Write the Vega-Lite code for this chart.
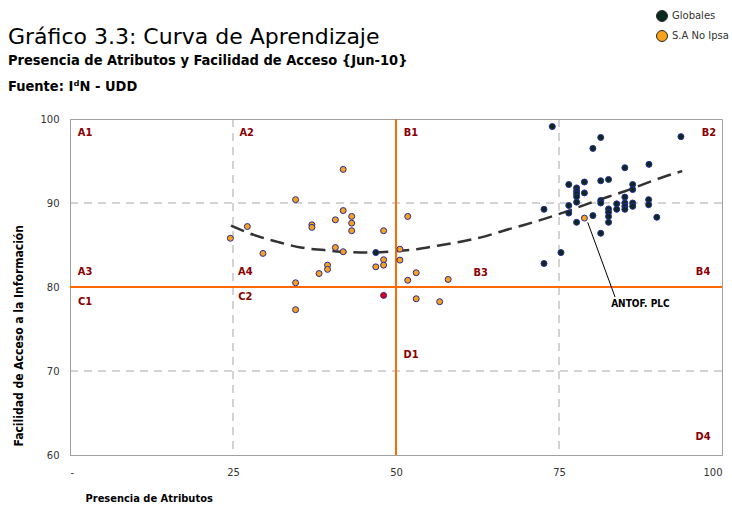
{
  "$schema": "https://vega.github.io/schema/vega-lite/v6.json",
  "width": 652,
  "height": 336,
  "autosize": {"type": "none"},
  "padding": {"left": 70, "top": 119, "right": 10, "bottom": 53},
  "background": "white",
  "title": {
    "text": "Gráfico 3.3: Curva de Aprendizaje",
    "subtitle": ["Presencia de Atributos y Facilidad de Acceso {Jun-10}", "Fuente: IᵈN - UDD"],
    "anchor": "start",
    "frame": "group",
    "dx": -62,
    "dy": 106,
    "offset": 22,
    "font": "DejaVu Sans",
    "fontSize": 22,
    "fontWeight": "normal",
    "color": "#000000",
    "subtitleFont": "DejaVu Sans Condensed",
    "subtitleFontSize": 14.5,
    "subtitleFontWeight": "bold",
    "subtitleColor": "#000000",
    "subtitleLineHeight": 26,
    "subtitlePadding": 5
  },
  "config": {
    "view": {"stroke": "#a0a0a0", "strokeWidth": 1},
    "axis": {
      "labelFont": "DejaVu Sans",
      "labelFontSize": 10,
      "labelColor": "#333333",
      "titleFont": "DejaVu Sans Condensed",
      "titleFontSize": 11,
      "titleFontWeight": "bold",
      "titleColor": "#000000",
      "domainColor": "#a0a0a0",
      "ticks": false,
      "grid": false
    }
  },
  "datasets": {
    "puntos": [
      {"serie": "S.A No Ipsa", "x": 41.9, "y": 94.0},
      {"serie": "S.A No Ipsa", "x": 34.6, "y": 90.4},
      {"serie": "S.A No Ipsa", "x": 41.9, "y": 89.1},
      {"serie": "S.A No Ipsa", "x": 40.7, "y": 88.0},
      {"serie": "S.A No Ipsa", "x": 43.2, "y": 88.4},
      {"serie": "S.A No Ipsa", "x": 43.2, "y": 87.6},
      {"serie": "S.A No Ipsa", "x": 43.2, "y": 86.7},
      {"serie": "S.A No Ipsa", "x": 37.1, "y": 87.4},
      {"serie": "S.A No Ipsa", "x": 37.1, "y": 87.1},
      {"serie": "S.A No Ipsa", "x": 27.2, "y": 87.2},
      {"serie": "S.A No Ipsa", "x": 24.6, "y": 85.8},
      {"serie": "S.A No Ipsa", "x": 29.6, "y": 84.0},
      {"serie": "S.A No Ipsa", "x": 48.1, "y": 86.7},
      {"serie": "S.A No Ipsa", "x": 40.7, "y": 84.7},
      {"serie": "S.A No Ipsa", "x": 41.9, "y": 84.2},
      {"serie": "S.A No Ipsa", "x": 50.6, "y": 84.5},
      {"serie": "S.A No Ipsa", "x": 48.1, "y": 83.25},
      {"serie": "S.A No Ipsa", "x": 48.1, "y": 82.6},
      {"serie": "S.A No Ipsa", "x": 46.9, "y": 82.4},
      {"serie": "S.A No Ipsa", "x": 50.6, "y": 83.2},
      {"serie": "S.A No Ipsa", "x": 51.8, "y": 88.4},
      {"serie": "S.A No Ipsa", "x": 51.8, "y": 80.8},
      {"serie": "S.A No Ipsa", "x": 53.1, "y": 81.7},
      {"serie": "S.A No Ipsa", "x": 53.1, "y": 78.6},
      {"serie": "S.A No Ipsa", "x": 39.5, "y": 82.6},
      {"serie": "S.A No Ipsa", "x": 39.5, "y": 82.1},
      {"serie": "S.A No Ipsa", "x": 38.2, "y": 81.6},
      {"serie": "S.A No Ipsa", "x": 34.6, "y": 80.5},
      {"serie": "S.A No Ipsa", "x": 34.6, "y": 77.3},
      {"serie": "S.A No Ipsa", "x": 58.0, "y": 80.9},
      {"serie": "S.A No Ipsa", "x": 56.7, "y": 78.25},
      {"serie": "S.A No Ipsa", "x": 78.9, "y": 88.2},
      {"serie": "Globales", "x": 73.97, "y": 99.1},
      {"serie": "Globales", "x": 81.4, "y": 97.8},
      {"serie": "Globales", "x": 93.7, "y": 97.9},
      {"serie": "Globales", "x": 80.2, "y": 96.5},
      {"serie": "Globales", "x": 88.8, "y": 94.6},
      {"serie": "Globales", "x": 85.1, "y": 94.2},
      {"serie": "Globales", "x": 76.5, "y": 92.2},
      {"serie": "Globales", "x": 77.7, "y": 91.8},
      {"serie": "Globales", "x": 77.7, "y": 91.4},
      {"serie": "Globales", "x": 77.7, "y": 91.1},
      {"serie": "Globales", "x": 77.7, "y": 90.75},
      {"serie": "Globales", "x": 77.7, "y": 90.1},
      {"serie": "Globales", "x": 78.9, "y": 92.5},
      {"serie": "Globales", "x": 78.9, "y": 91.2},
      {"serie": "Globales", "x": 81.4, "y": 92.65},
      {"serie": "Globales", "x": 82.6, "y": 92.8},
      {"serie": "Globales", "x": 81.4, "y": 90.3},
      {"serie": "Globales", "x": 81.4, "y": 90.0},
      {"serie": "Globales", "x": 86.3, "y": 92.2},
      {"serie": "Globales", "x": 86.3, "y": 91.6},
      {"serie": "Globales", "x": 85.1, "y": 90.7},
      {"serie": "Globales", "x": 85.1, "y": 90.0},
      {"serie": "Globales", "x": 85.1, "y": 89.6},
      {"serie": "Globales", "x": 85.1, "y": 89.25},
      {"serie": "Globales", "x": 83.85, "y": 89.9},
      {"serie": "Globales", "x": 83.85, "y": 89.25},
      {"serie": "Globales", "x": 86.3, "y": 90.0},
      {"serie": "Globales", "x": 86.3, "y": 89.6},
      {"serie": "Globales", "x": 88.75, "y": 90.4},
      {"serie": "Globales", "x": 88.75, "y": 89.8},
      {"serie": "Globales", "x": 82.6, "y": 89.3},
      {"serie": "Globales", "x": 82.6, "y": 88.9},
      {"serie": "Globales", "x": 82.6, "y": 88.4},
      {"serie": "Globales", "x": 82.6, "y": 87.7},
      {"serie": "Globales", "x": 76.5, "y": 89.7},
      {"serie": "Globales", "x": 76.5, "y": 88.8},
      {"serie": "Globales", "x": 80.2, "y": 88.5},
      {"serie": "Globales", "x": 77.7, "y": 87.7},
      {"serie": "Globales", "x": 81.4, "y": 86.4},
      {"serie": "Globales", "x": 90.0, "y": 88.3},
      {"serie": "Globales", "x": 75.3, "y": 84.1},
      {"serie": "Globales", "x": 72.7, "y": 82.8},
      {"serie": "Globales", "x": 72.7, "y": 89.25},
      {"serie": "Globales", "x": 46.9, "y": 84.1}
    ],
    "destacado": [{"x": 48.1, "y": 79.0}],
    "curva": [
      {"x": 24.7, "y": 87.3},
      {"x": 28.2, "y": 86.2},
      {"x": 31.7, "y": 85.4},
      {"x": 35.4, "y": 84.7},
      {"x": 39.0, "y": 84.4},
      {"x": 42.5, "y": 84.15},
      {"x": 46.0, "y": 84.1},
      {"x": 49.6, "y": 84.25},
      {"x": 53.2, "y": 84.5},
      {"x": 56.6, "y": 84.95},
      {"x": 60.3, "y": 85.45},
      {"x": 63.5, "y": 86.0},
      {"x": 66.5, "y": 86.7},
      {"x": 69.5, "y": 87.35},
      {"x": 73.1, "y": 88.2},
      {"x": 76.2, "y": 89.0},
      {"x": 80.8, "y": 90.3},
      {"x": 85.1, "y": 91.4},
      {"x": 88.5, "y": 92.4},
      {"x": 91.0, "y": 93.1},
      {"x": 93.9, "y": 93.8}
    ],
    "etiquetas": [
      {"t": "A1", "x": 2.3, "y": 98.3},
      {"t": "A2", "x": 27.1, "y": 98.3},
      {"t": "B1", "x": 52.3, "y": 98.3},
      {"t": "B2", "x": 98.0, "y": 98.3},
      {"t": "A3", "x": 2.3, "y": 81.8},
      {"t": "A4", "x": 26.9, "y": 81.8},
      {"t": "B3", "x": 63.0, "y": 81.7},
      {"t": "B4", "x": 97.1, "y": 81.8},
      {"t": "C1", "x": 2.3, "y": 78.2},
      {"t": "C2", "x": 26.9, "y": 78.8},
      {"t": "D1", "x": 52.3, "y": 71.9},
      {"t": "D4", "x": 97.1, "y": 62.1}
    ]
  },
  "layer": [
    {
      "data": {"values": [{"v": 25}, {"v": 75}]},
      "mark": {"type": "rule", "color": "#a8a8a8", "strokeDash": [8, 6], "strokeWidth": 1},
      "encoding": {
        "x": {"field": "v", "type": "quantitative", "scale": {"domain": [0, 100], "nice": false},
          "axis": {"values": [0, 25, 50, 75, 100], "labelExpr": "datum.value == 0 ? '-' : datum.label", "labelPadding": 12,
            "title": "Presencia de Atributos", "titleAnchor": "start", "titleAlign": "left", "titleX": 15, "titleY": 43, "titleBaseline": "middle"}}
      }
    },
    {
      "data": {"values": [{"v": 70}, {"v": 90}]},
      "mark": {"type": "rule", "color": "#a8a8a8", "strokeDash": [8, 6], "strokeWidth": 1},
      "encoding": {
        "y": {"field": "v", "type": "quantitative", "scale": {"domain": [60, 100], "nice": false},
          "axis": {"values": [60, 70, 80, 90, 100], "labelPadding": 11,
            "title": "Facilidad de Acceso a la Información", "titleFontSize": 12, "titleAnchor": "start", "titleAlign": "left", "titleAngle": -90, "titleX": -52, "titleY": 327, "titleBaseline": "middle"}}
      }
    },
    {
      "data": {"name": "curva"},
      "mark": {"type": "line", "color": "#333333", "strokeWidth": 2.5, "strokeDash": [14, 7], "interpolate": "monotone"},
      "encoding": {
        "x": {"field": "x", "type": "quantitative"},
        "y": {"field": "y", "type": "quantitative"}
      }
    },
    {
      "data": {"values": [{"v": 50}]},
      "mark": {"type": "rule", "color": "#ff6a00", "strokeWidth": 2},
      "encoding": {"x": {"field": "v", "type": "quantitative"}}
    },
    {
      "data": {"values": [{"v": 80}]},
      "mark": {"type": "rule", "color": "#ff6a00", "strokeWidth": 2},
      "encoding": {"y": {"field": "v", "type": "quantitative"}}
    },
    {
      "data": {"name": "puntos"},
      "mark": {"type": "point", "shape": "circle", "filled": true, "size": 36, "stroke": "#2a2a9a", "strokeWidth": 1, "opacity": 1},
      "encoding": {
        "x": {"field": "x", "type": "quantitative"},
        "y": {"field": "y", "type": "quantitative"},
        "fill": {
          "field": "serie", "type": "nominal",
          "scale": {"domain": ["Globales", "S.A No Ipsa"], "range": ["#0b2a1f", "#f7a21b"]},
          "legend": {
            "title": null, "orient": "none", "legendX": 586, "legendY": -109,
            "symbolType": "circle", "symbolSize": 120, "symbolStrokeColor": "#222222", "symbolStrokeWidth": 1,
            "labelFont": "DejaVu Sans", "labelFontSize": 10, "labelColor": "#333333", "rowPadding": 4, "padding": 0,
            "encode": {"symbols": {"update": {"fill": {"signal": "datum.value == 'Globales' ? '#000000' : '#ffcc99'"}, "opacity": {"value": 1}}}}
          }
        }
      }
    },
    {
      "data": {"name": "destacado"},
      "mark": {"type": "point", "shape": "circle", "filled": true, "size": 36, "fill": "#e00010", "stroke": "#2a2a9a", "strokeWidth": 1, "opacity": 1},
      "encoding": {
        "x": {"field": "x", "type": "quantitative"},
        "y": {"field": "y", "type": "quantitative"}
      }
    },
    {
      "data": {"values": [{"x": 79.4, "y": 87.7, "x2": 83.6, "y2": 78.8}]},
      "mark": {"type": "rule", "color": "#000000", "strokeWidth": 1},
      "encoding": {
        "x": {"field": "x", "type": "quantitative"},
        "y": {"field": "y", "type": "quantitative"},
        "x2": {"field": "x2"},
        "y2": {"field": "y2"}
      }
    },
    {
      "data": {"values": [{"t": "ANTOF. PLC", "x": 83.0, "y": 78.0}]},
      "mark": {"type": "text", "align": "left", "baseline": "middle", "font": "DejaVu Sans Condensed", "fontSize": 10, "fontWeight": "bold", "color": "#000000"},
      "encoding": {
        "x": {"field": "x", "type": "quantitative"},
        "y": {"field": "y", "type": "quantitative"},
        "text": {"field": "t"}
      }
    },
    {
      "data": {"name": "etiquetas"},
      "mark": {"type": "text", "align": "center", "baseline": "middle", "font": "DejaVu Sans Condensed", "fontSize": 11, "fontWeight": "bold", "color": "#8b0000"},
      "encoding": {
        "x": {"field": "x", "type": "quantitative"},
        "y": {"field": "y", "type": "quantitative"},
        "text": {"field": "t"}
      }
    }
  ]
}
